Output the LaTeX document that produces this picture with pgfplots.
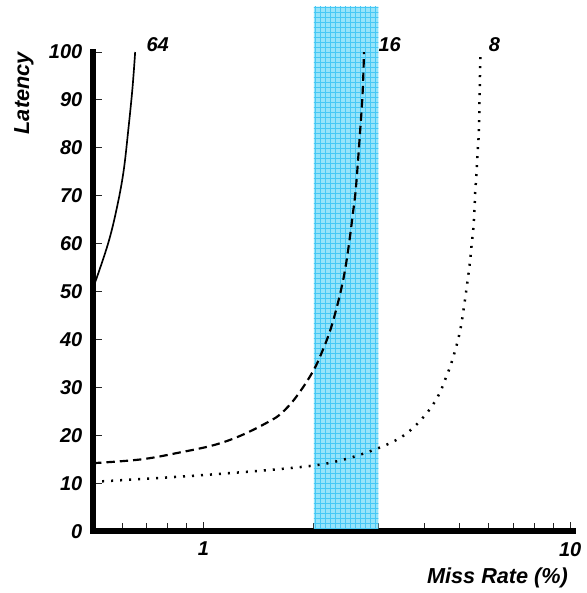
\documentclass[border=0pt]{standalone}
\usepackage{fontspec}
\setmainfont{Liberation Sans}
\usepackage{pgfplots}
\pgfplotsset{compat=1.18}
\usetikzlibrary{patterns}
\definecolor{bandfill}{RGB}{150,228,250}
\definecolor{bandgrid}{RGB}{70,200,245}
\newcommand{\tlfont}{\fontsize{12}{14}\selectfont\bfseries\itshape}
\newcommand{\lblfont}{\fontsize{13}{15}\selectfont\bfseries\itshape}
\begin{document}
\begin{tikzpicture}
\begin{axis}[
  scale only axis,
  width=288pt, height=287.4pt,
  xmode=log, xmin=0.5, xmax=10.2,
  ymin=0, ymax=100,
  clip=false,
  axis lines=left,
  axis line style={-, line width=3.6pt, line cap=rect},
  xtick={1,10}, xticklabels={1,10},
  minor xtick={0.6,0.7,0.8,0.9,2,3,4,5,6,7,8,9},
  ytick={0,10,20,30,40,50,60,70,80,90,100},
  tick align=inside,
  major tick length=5.5pt, minor tick length=5pt,
  tick style={line width=0.6pt, black!85},
  /pgf/number format/assume math mode=true,
  tick label style={font=\tlfont},
  yticklabel style={xshift=-3pt},
  xticklabel style={yshift=-3pt},
  ylabel={Latency},
  ylabel style={at={(axis description cs:-0.144,1)}, anchor=east, inner sep=0pt, font=\lblfont},
  xlabel={Miss Rate (\%)},
  xlabel style={at={(axis description cs:1,0)}, anchor=north east, inner sep=0pt, xshift=-3pt, yshift=-22pt, font=\lblfont},
]
% bounding region matching the reference margins
\path (axis description cs:-0.194,-0.129) rectangle (axis description cs:1.019,1.1086);
% shaded band
\addplot[draw=none, fill=bandfill, postaction={pattern=grid, pattern color=bandgrid}]
  coordinates {(2,0.65) (3,0.65) (3,109.5) (2,109.5) (2,0.65)};
% 64
\addplot[black, line width=1pt, smooth, tension=0.6] coordinates {
  (0.5,51) (0.512,53) (0.551,60.4) (0.580,67.4) (0.605,75) (0.624,84) (0.640,92.4) (0.651,100)};
% 16
\addplot[black, line width=1.3pt, dash pattern=on 5pt off 3pt, smooth, tension=0.6] coordinates {
  (0.5,14.2) (0.678,15.0) (0.871,16.5) (1.071,18) (1.268,20) (1.502,22.8)
  (1.63,24.6) (1.789,28) (1.987,33.3) (2.115,37.8) (2.218,42) (2.298,46.1)
  (2.371,50.3) (2.432,54.5) (2.494,60) (2.556,66.4) (2.605,71.8) (2.671,83)
  (2.716,91.4) (2.74,100)};
% 8
\addplot[black, line width=1.5pt, dash pattern=on 1.2pt off 4.2pt, smooth, tension=0.6] coordinates {
  (0.5,10.3) (0.995,11.7) (1.846,13.4) (2.37,14.8) (2.99,17.3) (3.52,20)
  (3.99,23.9) (4.35,28) (4.575,31.9) (4.77,35.7) (5.003,41.6) (5.152,47.7)
  (5.24,51.8) (5.326,56) (5.393,60.2) (5.46,64.4) (5.508,70.6) (5.554,74.8)
  (5.589,79) (5.634,83.2) (5.664,91.5) (5.694,100)};
\node[font=\tlfont] at (axis cs:0.75,101.6) {64};
\node[font=\tlfont] at (axis cs:3.22,101.6) {16};
\node[font=\tlfont] at (axis cs:6.22,101.6) {8};
\end{axis}
\end{tikzpicture}
\end{document}
